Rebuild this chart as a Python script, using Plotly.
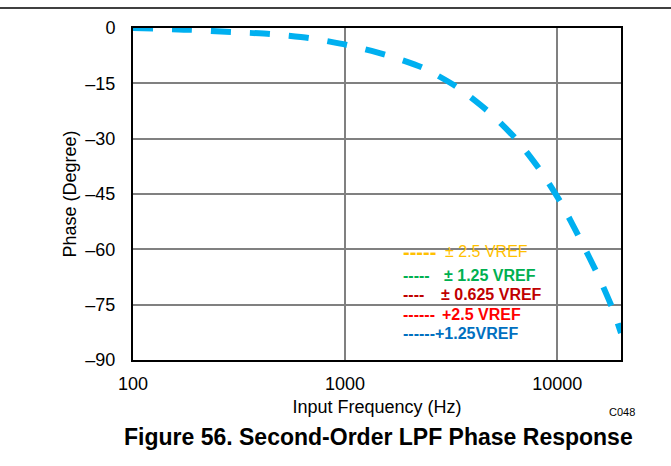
import plotly.graph_objects as go

# ---- data ----
freq_hz = [100, 188, 290, 443, 676, 1021, 1560, 2330, 3370, 4770, 6400, 8300,
           10420, 12820, 15580, 18340, 20000]
phase_deg = [0, -0.5, -1.1, -1.6, -2.7, -4.6, -7.3, -10.8, -16.0, -22.8, -30.1,
             -38.5, -47.4, -57.2, -67.0, -76.4, -82.7]

x_tick_vals = [100, 1000, 10000]
x_tick_text = ["100", "1000", "10000"]
y_tick_vals = [0, -15, -30, -45, -60, -75, -90]
y_tick_text = ["0", "\u201315", "\u201330", "\u201345", "\u201360", "\u201375", "\u201390"]

legend_names = ["\u00b1 2.5 VREF", "\u00b1 1.25 VREF", "\u00b1 0.625 VREF", "+2.5 VREF", "+1.25VREF"]
legend_marks = ["-----", "-----", "----", "------", "------"]
legend_colors = ["#FFC000", "#00B050", "#C00000", "#FF0000", "#0070C0"]
legend_bold = [False, True, True, True, True]

# ---- layout geometry (pixels) ----
W, H = 671, 466
L, R, T, B = 133, 50, 28, 106
PW, PH = W - L - R, H - T - B
FONT = "Liberation Sans, Arial, sans-serif"


def px(xp):
    return (xp - L) / PW


def py(yp):
    return (T + PH - yp) / PH


fig = go.Figure()
fig.add_trace(go.Scatter(
    x=freq_hz, y=phase_deg, mode="lines", name="+1.25VREF",
    line=dict(color="#00B0F0", width=6, dash="20px,19px", shape="spline", smoothing=0.6),
    showlegend=False,
))

shapes = []
# darker grid lines at -15 and -60
for yv in (-15, -60):
    shapes.append(dict(type="line", xref="paper", yref="y", x0=0, x1=1, y0=yv, y1=yv,
                       line=dict(color="#000000", width=1.5), layer="between"))
# legend background box
shapes.append(dict(type="rect", xref="paper", yref="paper",
                   x0=px(392), x1=px(557.5), y0=py(349), y1=py(232),
                   fillcolor="white", line=dict(width=0), layer="between"))
# top rule of the page
shapes.append(dict(type="line", xref="paper", yref="paper",
                   x0=px(0), x1=px(W), y0=py(8), y1=py(8),
                   line=dict(color="#000000", width=1.5), layer="above"))

annotations = []
row_y = [252, 275, 294, 314, 333]
label_x = [443, 442, 439, 440, 433]
mark_size = [20, 16, 16, 16, 16]
for i, name in enumerate(legend_names):
    fw = "bold" if legend_bold[i] else "normal"
    annotations.append(dict(x=px(401), y=py(row_y[i]), xref="paper", yref="paper",
                            text=legend_marks[i], showarrow=False, xanchor="left", yanchor="middle",
                            font=dict(family=FONT, size=mark_size[i], color=legend_colors[i], weight="bold")))
    annotations.append(dict(x=px(label_x[i]), y=py(row_y[i]), xref="paper", yref="paper",
                            text=name, showarrow=False, xanchor="left", yanchor="middle",
                            font=dict(family=FONT, size=16, color=legend_colors[i], weight=fw)))

annotations.append(dict(x=px(622), y=py(412), xref="paper", yref="paper", text="C048",
                        showarrow=False, xanchor="center", yanchor="middle",
                        font=dict(family=FONT, size=11, color="#000000")))
annotations.append(dict(x=px(378), y=py(437), xref="paper", yref="paper",
                        text="<b>Figure 56. Second-Order LPF Phase Response</b>",
                        showarrow=False, xanchor="center", yanchor="middle",
                        font=dict(family=FONT, size=23, color="#000000")))

fig.update_layout(
    width=W, height=H,
    margin=dict(l=L, r=R, t=T, b=B, autoexpand=False),
    paper_bgcolor="white", plot_bgcolor="white",
    font=dict(family=FONT, color="#000000"),
    shapes=shapes, annotations=annotations,
    showlegend=False,
)
fig.update_xaxes(
    type="log", range=[2, 4.30103],
    tickvals=x_tick_vals, ticktext=x_tick_text,
    tickfont=dict(size=18, family=FONT, color="#000000"),
    ticks="", ticklabelstandoff=6,
    showgrid=True, gridcolor="#808080", gridwidth=1.5,
    showline=True, linecolor="#000000", linewidth=2, mirror=True,
    zeroline=False,
    title=dict(text="Input Frequency (Hz)", font=dict(size=18, family=FONT, color="#000000"), standoff=8),
)
fig.update_yaxes(
    range=[-90, 0],
    tickvals=y_tick_vals, ticktext=y_tick_text,
    tickfont=dict(size=18, family=FONT, color="#000000"),
    ticks="", ticklabelstandoff=12,
    showgrid=True, gridcolor="#808080", gridwidth=1.5,
    showline=True, linecolor="#000000", linewidth=2, mirror=True,
    zeroline=False,
    title=dict(text="Phase (Degree)", font=dict(size=18, family=FONT, color="#000000"), standoff=4),
)

fig.write_html("out.html", config={"displayModeBar": False},
               post_script="document.body.style.margin='0';document.body.style.padding='0';")
